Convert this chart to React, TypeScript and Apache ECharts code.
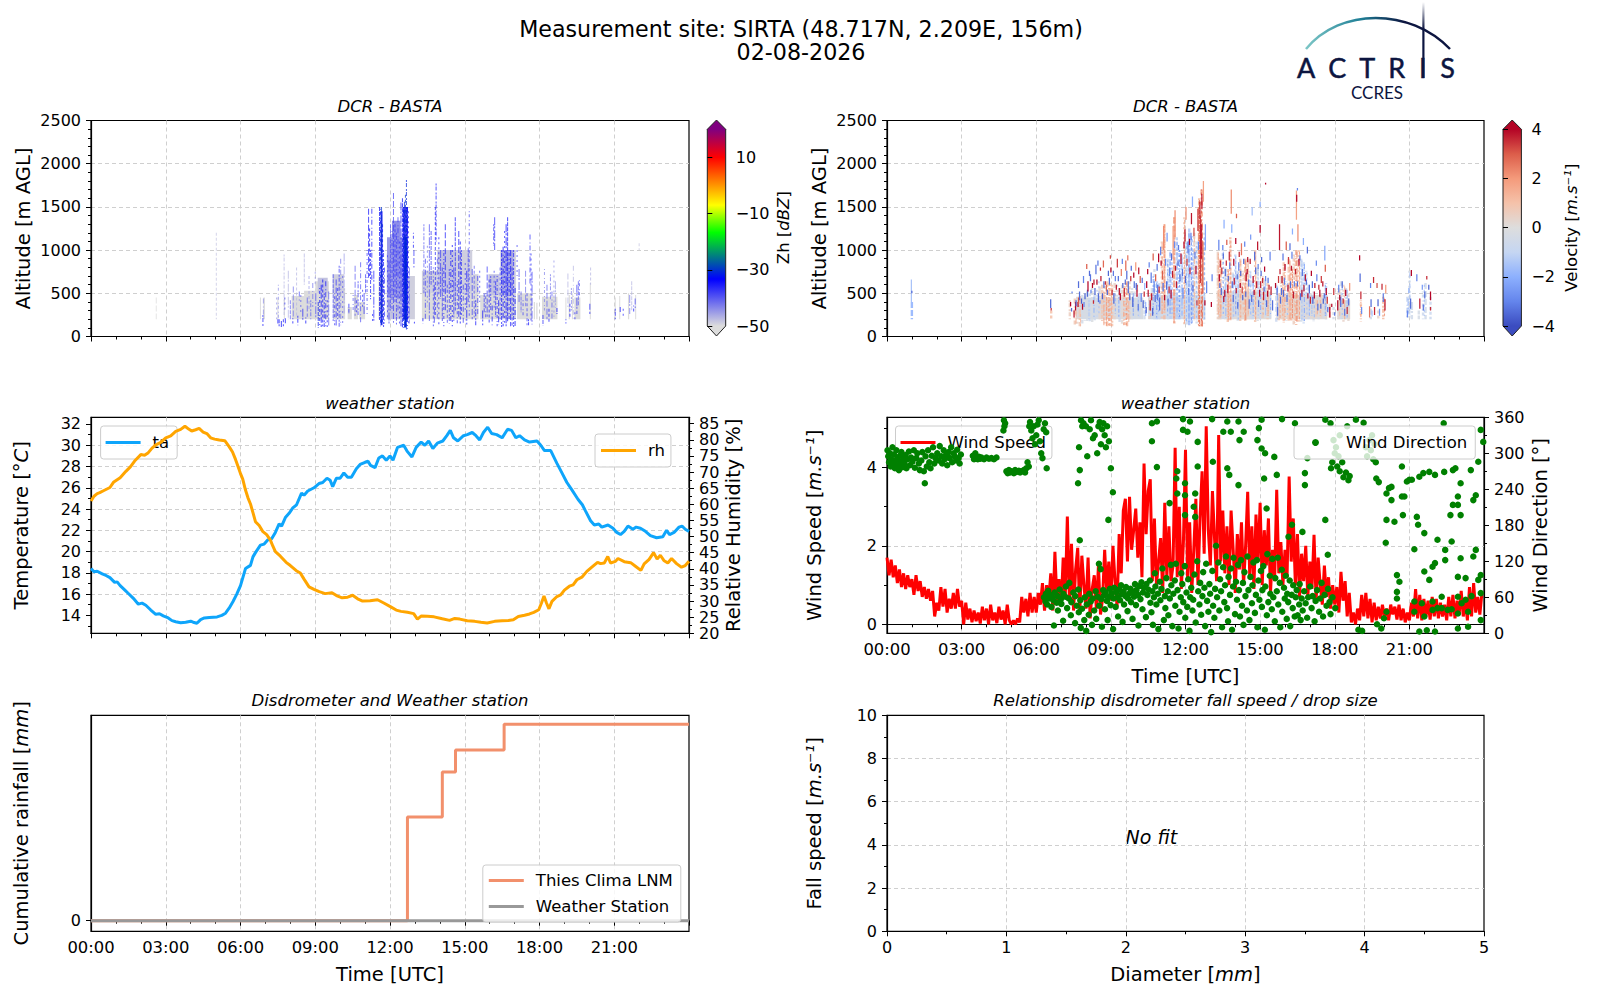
import React, { useEffect, useRef } from "react";
import * as echarts from "echarts";

const FONT = "DejaVu Sans";

const siteTitle = "Measurement site: SIRTA (48.717N, 2.209E, 156m)";
const dateTitle = "02-08-2026";

// Reflectivity: blocks [h0, h1, low, high, dBZ]
const zhBlocks: number[][] = [
  [6.78,6.81,200,450,-50],[6.92,6.98,200,450,-50],[7.48,7.52,200,450,-50],[7.74,7.78,200,450,-50],
  [8.05,8.55,200,470,-50],[8.55,9.0,200,530,-50],[9.0,9.55,200,640,-50],[9.72,10.2,200,560,-50],
  [10.3,10.47,200,340,-50],[10.55,10.72,200,480,-50],[10.76,11.0,200,400,-50],[11.54,11.74,200,700,-50],
  [11.87,12.5,200,960,-48],[12.72,13.0,200,700,-49],[13.28,15.55,200,500,-50],[15.62,16.43,200,480,-50],
  [16.43,17.05,200,1000,-49],[17.1,17.7,200,500,-50],[17.77,17.82,200,400,-50],[17.87,17.92,200,390,-50],
  [18.1,18.72,200,460,-50],[19.04,19.08,200,450,-50],[19.17,19.22,200,480,-50],[19.3,19.34,200,500,-50],
  [19.4,19.64,200,450,-50],[20.02,20.06,200,620,-50],[21.02,21.06,200,450,-50],[21.2,21.24,200,470,-50],
  [21.55,21.6,200,500,-50],[21.84,21.88,200,480,-50],
  [13.28,13.9,500,760,-49],[13.9,14.6,500,1000,-48],[14.6,15.3,500,1000,-49],[15.3,15.55,500,720,-49],
  [16.45,16.95,480,1000,-46],[15.95,16.4,480,720,-48],[9.7,10.15,500,720,-49],[9.1,9.5,500,680,-48],
  [11.88,12.5,450,1150,-45],[12.08,12.42,700,1340,-44],
  [12.52,12.72,200,1500,-38],[12.58,12.67,110,1150,-31],[11.62,11.7,130,1450,-37],
];
// Reflectivity: thin columns [hour, low, high, dBZ]
const zhStreaks: number[][] = [
  [2.62,200,450,-50],[5.03,200,1200,-48],[6.9,120,250,-35],[6.92,200,440,-44],[7.45,200,450,-44],
  [7.5,150,200,-34],[7.55,120,200,-33],[7.52,210,600,-44],[7.64,110,180,-33],[7.72,120,200,-34],[7.75,250,950,-47],
  [7.8,130,210,-34],[7.78,300,450,-38],[7.92,200,760,-47],[8.0,200,420,-40],[8.1,150,210,-34],[8.12,230,580,-42],
  [8.25,230,800,-47],[8.3,130,240,-34],[8.36,400,520,-39],[8.42,250,480,-40],[8.5,170,320,-36],[8.56,600,960,-47],
  [8.62,130,220,-33],[8.68,230,450,-40],[8.75,300,700,-45],[8.82,200,420,-40],[8.9,340,620,-42],[9.0,580,750,-44],
  [9.02,220,500,-39],[9.12,100,400,-32],[9.18,110,560,-33],[9.24,110,600,-34],[9.3,120,660,-33],[9.36,110,500,-33],
  [9.42,120,640,-35],[9.48,110,420,-33],[9.54,120,520,-40],[9.72,180,720,-38],[9.78,130,500,-36],[9.84,120,660,-37],
  [9.9,200,560,-36],[9.96,110,820,-37],[10.02,130,900,-42],[10.1,130,700,-40],[10.16,260,960,-45],[10.35,260,380,-35],
  [10.52,300,480,-40],[10.6,240,820,-40],[10.66,280,420,-36],[10.72,250,640,-38],[10.82,140,860,-39],[10.9,320,540,-36],
  [10.96,260,500,-37],[11.02,510,720,-37],[11.08,240,1000,-38],[11.14,680,1480,-34],[11.18,700,1250,-34],[11.22,430,1000,-35],
  [11.27,640,1480,-35],[11.3,160,260,-36],[11.35,180,760,-36],[11.58,190,1500,-33],[11.62,120,1480,-32],[11.66,140,1500,-30],
  [11.7,160,1300,-32],[11.74,110,1000,-35],[11.78,150,800,-37],[11.9,200,940,-38],[11.96,150,880,-37],[12.02,300,1300,-39],
  [12.08,280,1220,-38],[12.14,160,1660,-38],[12.2,400,1300,-37],[12.26,140,1200,-38],[12.32,300,1380,-38],[12.38,150,1100,-37],
  [12.44,120,1550,-36],[12.5,100,1600,-33],[12.54,100,1500,-32],[12.58,90,1560,-31],[12.62,90,1640,-30],[12.66,80,1810,-31],
  [12.7,90,1500,-33],[12.74,150,1450,-36],[12.78,150,800,-42],[12.98,150,170,-34],[12.94,1020,1200,-35],[12.96,800,1000,-37],
  [13.32,150,210,-33],[13.36,500,1300,-40],[13.42,200,900,-38],[13.5,350,1050,-42],[13.58,180,1300,-39],[13.65,600,1220,-37],
  [13.74,120,800,-37],[13.78,150,600,-38],[13.82,240,1500,-36],[13.85,1100,1770,-35],[13.9,180,900,-40],[13.96,140,1150,-35],
  [14.03,440,1000,-38],[14.1,180,800,-37],[14.16,120,1000,-36],[14.22,300,1300,-35],[14.3,160,600,-38],[14.38,150,780,-38],
  [14.44,150,1000,-35],[14.5,120,1060,-34],[14.56,180,800,-37],[14.62,300,1380,-35],[14.7,130,640,-36],[14.76,230,1220,-35],
  [14.82,150,1100,-33],[14.86,250,1000,-34],[14.94,150,600,-37],[15.02,300,850,-38],[15.08,140,760,-34],[15.14,400,1020,-38],
  [15.18,240,1450,-38],[15.3,200,780,-38],[15.38,220,820,-40],[15.44,130,420,-34],[15.52,250,700,-38],[15.6,400,760,-38],
  [15.72,130,300,-34],[15.78,280,500,-37],[15.84,220,500,-38],[15.9,230,810,-37],[15.98,140,660,-35],[16.04,300,700,-38],
  [16.1,130,360,-34],[16.18,300,760,-38],[16.2,1000,1380,-36],[16.24,230,640,-36],[16.3,120,700,-36],[16.36,140,420,-34],
  [16.42,200,800,-38],[16.48,110,1000,-34],[16.54,120,1040,-33],[16.6,160,1220,-35],[16.66,110,1300,-34],[16.72,170,1380,-33],
  [16.78,200,1000,-35],[16.84,120,1000,-35],[16.9,110,800,-36],[16.96,110,1000,-36],[17.02,110,560,-33],[17.1,700,1060,-38],
  [17.18,400,780,-39],[17.26,280,520,-40],[17.34,220,420,-38],[17.44,350,760,-42],[17.5,130,500,-38],[17.56,130,200,-34],
  [17.62,600,1180,-37],[17.66,150,960,-36],[17.7,140,750,-38],[18.14,130,250,-36],[18.2,300,780,-43],[18.3,200,600,-40],
  [18.38,170,320,-34],[18.44,430,720,-42],[18.5,200,520,-40],[18.58,230,880,-44],[18.64,330,640,-45],[18.7,260,330,-34],
  [19.06,150,200,-35],[19.14,340,730,-47],[19.22,220,380,-34],[19.28,300,560,-43],[19.36,200,820,-47],[19.42,180,280,-36],
  [19.5,260,600,-37],[19.56,350,640,-40],[19.6,450,650,-38],[20.02,260,380,-36],[20.05,600,800,-47],[21.04,200,320,-36],
  [21.24,280,340,-35],[21.36,230,320,-36],[21.62,260,480,-42],[21.7,300,640,-47],[21.78,270,360,-34],[21.84,330,440,-38],
  [22.0,1000,1080,-48],[16.16,1050,1300,-38],
];

// Velocity: pale backdrop blocks [h0, h1, low, high, m/s]
const velBlocks: number[][] = [
  [7.6,10.3,200,450,-0.3],[10.5,12.8,200,480,-0.5],[13.3,15.45,200,520,0.1],[15.65,17.7,200,480,0.2],[18.1,18.62,200,420,0.1],
];
// Velocity: pale columns [hour, low, high, m/s]
const velBase: number[][] = [
  [1.0,200,400,-2],[6.6,200,300,1],[7.35,200,420,0.6],[7.55,140,440,0.8],[7.65,130,460,0.3],[7.75,120,470,0.8],[7.85,150,480,-0.5],
  [7.95,180,500,-0.3],[8.05,180,520,-0.4],[8.15,170,500,-0.7],[8.25,150,560,-0.2],[8.35,170,500,-0.6],[8.45,200,540,-0.8],[8.55,200,580,0.3],
  [8.65,180,600,0.8],[8.75,150,620,0.6],[8.85,120,640,1.1],[8.95,120,620,1.4],[9.05,120,600,1.0],[9.15,200,620,0.4],[9.25,200,600,-0.3],
  [9.35,160,560,-0.7],[9.45,140,600,0.2],[9.55,130,620,1.0],[9.65,120,640,1.3],[9.75,200,640,0.5],[9.85,200,560,-0.2],[9.95,200,520,-0.5],
  [10.05,200,600,-0.2],[10.15,200,500,-0.8],[10.35,200,420,-0.6],[10.55,200,480,0.5],[10.65,200,560,-0.4],[10.75,200,780,-0.6],[10.85,200,640,-1.2],
  [10.95,200,620,-0.8],[11.05,200,1100,0.8],[11.15,200,1300,1.2],[11.3,200,900,-0.9],[11.4,200,1000,-1.2],[11.55,150,1380,1.5],[11.65,200,1150,-1.2],
  [11.75,200,1000,-1.5],[11.85,200,950,-1.0],[11.95,140,1380,0.7],[12.05,140,1100,-0.9],[12.15,130,1250,-1.4],[12.25,140,1160,-1.6],[12.35,180,1200,0.3],
  [12.45,150,1100,-0.6],[12.55,120,1600,1.3],[12.65,100,1700,1.9],[12.75,150,1200,-0.4],[13.3,200,980,0.6],[13.4,200,900,1.2],[13.5,200,1000,-0.8],
  [13.6,200,800,-0.5],[13.7,150,780,1.0],[13.8,180,1150,1.2],[13.9,200,740,-0.3],[14.0,200,950,-1.1],[14.1,160,760,-0.5],[14.2,180,900,0.8],
  [14.3,200,760,0.4],[14.4,170,900,1.3],[14.5,200,900,0.5],[14.6,200,760,-0.7],[14.7,200,640,-1.0],[14.8,150,1000,0.9],[14.9,180,800,-0.3],
  [15.0,200,640,-0.8],[15.1,200,700,0.6],[15.2,200,660,-0.4],[15.3,200,620,0.7],[15.4,200,500,-0.6],[15.65,170,600,-0.8],[15.75,170,500,0.8],
  [15.85,200,700,0.4],[15.95,160,860,1.0],[16.05,180,640,-0.4],[16.15,170,900,0.9],[16.25,180,800,1.2],[16.35,130,950,0.6],[16.45,130,1000,1.3],
  [16.55,170,1000,0.9],[16.65,160,900,-0.5],[16.75,150,860,-1.0],[16.85,200,760,-0.4],[16.95,200,600,-0.8],[17.05,200,500,-0.3],[17.15,170,520,-0.5],
  [17.25,200,420,0.5],[17.35,200,450,-0.6],[17.45,200,500,0.4],[17.55,200,480,-0.3],[17.65,200,620,-1.2],[17.8,200,380,0.7],[17.95,200,340,-0.5],
  [18.15,200,560,0.2],[18.25,180,640,-0.5],[18.35,170,600,0.4],[18.45,200,560,-0.5],[18.55,180,500,0.3],[19.05,170,420,0.9],[19.45,200,320,-0.6],
  [19.75,200,300,0.4],[19.95,200,460,1.2],[20.92,210,460,-1.0],[21.0,200,760,-0.4],[21.1,200,400,-0.6],[21.38,200,300,-0.4],[21.55,200,520,-0.7],
  [21.65,200,620,-0.6],[21.85,200,460,-0.8],
];
// Velocity: narrow strong cells [hour, low, high, m/s]
const velCells: number[][] = [
  [0.98,400,660,-1.5],[1.0,500,530,-3.5],[6.58,330,430,-3.5],[6.6,300,330,3.5],[7.38,350,400,4],[7.42,290,330,-3.4],[7.44,500,520,-3],
  [7.52,220,300,3.8],[7.58,300,400,4],[7.6,350,420,-3.5],[7.68,340,400,4],[7.7,380,450,3],[7.74,420,520,-3.4],[7.82,380,440,-3.6],[7.86,310,380,4],
  [7.92,340,400,-3],[7.96,430,500,-3.6],[8.06,460,540,-3.5],[8.08,520,640,4],[8.14,700,760,-3.4],[8.2,500,540,-3],[8.26,560,620,4],[8.3,380,420,3.6],
  [8.36,480,560,-3.5],[8.4,720,830,-3.3],[8.44,600,660,4],[8.5,400,500,-3.4],[8.56,380,420,-3],[8.6,640,700,3.8],[8.66,430,500,-3.6],[8.72,560,640,-3.4],
  [8.78,600,640,3.5],[8.82,520,600,2.8],[8.9,700,760,-3.5],[8.94,600,680,-3.4],[9.0,740,800,4],[9.05,480,540,3.6],[9.12,380,500,-3.5],[9.18,640,700,-3],
  [9.22,540,600,3.8],[9.3,640,700,-3.4],[9.38,420,500,4],[9.42,700,780,2.5],[9.48,560,620,-3.5],[9.54,460,560,3.6],[9.6,760,880,2.8],[9.64,660,760,-3.4],
  [9.7,500,640,-3.4],[9.76,420,500,-3.5],[9.8,640,700,3.5],[9.88,340,460,-3.5],[9.94,560,640,-3.3],[10.0,760,860,2],[10.05,460,600,4],[10.1,300,380,-3.2],
  [10.18,620,700,3],[10.22,400,500,-3],[10.3,330,420,-3.5],[10.36,540,620,-1.8],[10.42,270,340,-3.6],[10.48,720,780,4],[10.5,460,540,3.8],[10.58,300,420,4],
  [10.62,620,740,-3.2],[10.68,240,330,-3.6],[10.74,500,640,-3],[10.8,640,720,3],[10.88,420,600,-3.2],[10.92,860,960,4],[10.96,300,450,-3.4],[11.02,820,880,4],
  [11.08,660,760,3],[11.12,1000,1280,2.2],[11.2,820,900,-3],[11.24,540,640,-3.4],[11.3,360,440,-3.4],[11.36,700,800,-3],[11.42,440,540,4],[11.5,900,1280,1.8],
  [11.58,1150,1460,2.2],[11.6,760,820,3.8],[11.72,1000,1060,-3.2],[11.78,640,720,-3.4],[11.82,840,960,4],[11.9,440,560,-3],[11.98,1100,1240,3.8],[12.02,1350,1500,2.2],
  [12.1,960,1100,-3.2],[12.16,1060,1130,4],[12.24,1300,1430,3.8],[12.28,1500,1620,-2],[12.34,1160,1260,3.2],[12.42,720,820,4],[12.5,1220,1480,3.4],[12.58,1360,1560,3.6],
  [12.6,620,1400,3.4],[12.63,900,1300,4],[12.66,1480,1650,3.8],[12.7,500,1100,3],[12.72,1560,1800,1.8],[12.8,1000,1300,-2.2],[12.78,360,420,4],[12.85,500,640,-3],
  [13.07,640,720,-3],[13.04,340,400,4],[13.34,1000,1120,-3],[13.36,640,720,4],[13.4,800,880,3.6],[13.44,480,560,-3.4],[13.5,1000,1060,-3],[13.54,400,470,4],
  [13.6,700,780,-3.4],[13.66,1060,1120,3],[13.7,500,600,3.8],[13.76,880,980,3.6],[13.84,1420,1700,2.2],[13.86,1200,1300,-2],[13.92,400,480,-3.4],[13.96,600,680,3.8],
  [14.02,1070,1140,4],[14.1,320,400,-3.4],[14.14,760,860,-3],[14.2,560,620,4],[14.25,940,1080,2.6],[14.3,420,480,-3.5],[14.38,1040,1100,-3],[14.44,640,740,4],
  [14.5,860,920,3.8],[14.56,320,430,-3.4],[14.62,1120,1180,-2.5],[14.68,1400,1500,-1.6],[14.76,480,540,4],[14.82,720,800,-3.4],[14.9,1000,1100,3.8],[14.94,340,420,-3.4],
  [15.0,1200,1290,4],[15.02,560,640,3.6],[15.06,860,920,-3.4],[15.14,420,520,3.8],[15.18,750,810,4],[15.26,340,420,-3.5],[15.32,620,680,-3.4],[15.4,880,980,-3],
  [15.44,480,580,3.8],[15.5,300,420,-3.4],[15.62,560,620,4],[15.7,240,340,-3.4],[15.78,1000,1300,3.8],[15.8,720,780,3.6],[15.86,480,560,-3.4],[15.92,880,960,-3.2],
  [15.98,600,680,-3],[16.05,1000,1100,3],[16.12,520,600,4],[16.2,1000,1080,-3.4],[16.26,760,820,3.8],[16.3,1180,1250,-2],[16.38,580,640,-3],[16.46,1350,1690,1.8],
  [16.52,1100,1300,2.2],[16.6,880,940,-3.2],[16.68,460,540,4],[16.74,1060,1140,-2],[16.82,640,720,3.8],[16.9,960,1040,-3.4],[16.98,500,600,-3.5],
  [17.06,700,760,4],[17.12,380,460,-3.6],[17.2,560,620,3.8],[17.26,820,880,-2.8],[17.32,300,380,-3.4],[17.4,460,540,4],[17.46,620,700,3.4],[17.54,380,440,-3.6],
  [17.6,880,1050,-2.2],[17.62,750,830,3],[17.66,480,560,4],[17.72,280,340,-3.4],[17.8,220,340,4],[17.88,340,380,4],[17.96,480,560,3.5],[18.0,240,280,-3.4],
  [18.12,300,420,4],[18.16,510,600,-3],[18.24,340,460,-3.5],[18.3,560,640,-3.5],[18.34,380,440,3.6],[18.4,240,320,-3.2],[18.44,470,540,4],[18.5,260,340,3.5],
  [18.56,360,440,-3.4],[18.6,530,620,2],[19.0,880,940,4],[19.02,630,730,-3.4],[19.05,430,520,3.6],[19.08,260,340,-2.8],[19.4,220,350,2.6],[19.44,560,620,-3],
  [19.46,340,430,-3.4],[19.56,620,690,3.6],[19.6,250,340,3.6],[19.7,560,620,3.2],[19.74,350,430,-3.5],[19.8,240,320,-2.6],[19.9,540,610,3.6],[19.95,400,500,-3.2],
  [20.02,300,430,3.8],[20.05,500,600,2],[20.92,220,300,-3],[20.98,500,560,-2],[21.05,320,440,-3.4],[21.08,700,770,4],[21.3,640,720,-3],[21.42,320,440,3.8],
  [21.52,540,600,-2.5],[21.56,300,370,-3.3],[21.62,440,520,-3.4],[21.7,660,700,3.6],[21.78,540,600,-3.6],[21.85,420,520,4],[21.85,300,340,3.6],
  [13.55,1250,1350,-2],[14.05,1370,1420,3],[15.0,1500,1560,-2],[16.47,1560,1640,4],[16.5,1690,1720,-3],[15.22,1760,1780,4],
  [7.7,560,640,-3.4],[7.9,620,700,-3],[8.03,780,840,3],[8.18,640,720,-3.3],[8.32,600,660,3.8],[8.48,820,880,-3.2],[8.58,760,800,3.6],[8.7,800,880,2.8],[8.86,480,540,-3.4],[8.98,900,940,3.2],
  [9.1,700,760,-3.2],[9.26,800,900,3.4],[9.34,480,560,3.8],[9.46,840,900,-3],[9.58,600,660,-3.4],[9.68,880,940,2.6],[9.82,760,820,-3.4],[9.92,680,740,4],[10.02,540,620,-3.5],[10.12,720,800,3.8],
  [10.26,620,680,-3.4],[10.34,460,520,3.6],[10.44,560,640,4],[10.54,800,860,-3],[10.64,420,500,3.8],[10.7,880,960,3],[10.78,400,480,-3.5],[10.86,760,840,-3.2],[10.94,500,580,3.6],[11.0,940,1040,-3],
  [11.1,520,620,-3.5],[11.16,420,480,4],[11.26,1100,1200,-2.5],[11.34,500,580,3.6],[11.44,880,960,-3.4],[11.48,680,760,3.8],[11.56,1020,1100,-2.8],[11.64,560,640,3.8],[11.7,820,880,-3.4],[11.88,700,780,-3.3],
  [11.94,1020,1100,4],[12.0,620,700,-3.5],[12.06,820,900,3.4],[12.12,480,560,-3.2],[12.18,720,800,3.8],[12.22,1120,1200,-3],[12.3,520,600,-3.4],[12.38,900,980,-3.2],[12.46,360,420,3.4],[12.52,1000,1100,-3],
  [13.38,560,620,-3.4],[13.46,720,800,3.6],[13.52,900,960,-3.4],[13.58,460,540,4],[13.64,820,880,3.6],[13.72,640,700,-3.4],[13.78,780,860,-3.2],[13.88,560,640,-3.4],[13.94,820,900,4],[14.04,500,560,3.8],
  [14.08,660,720,-3.4],[14.16,920,980,3.6],[14.22,700,760,-3.5],[14.28,500,580,3.2],[14.34,840,900,-3.4],[14.42,460,520,-3.4],[14.48,720,780,4],[14.54,580,660,-3.2],[14.6,840,900,3.8],[14.66,400,480,-3.4],
  [14.72,620,700,4],[14.78,880,980,-3.4],[14.86,560,640,3.8],[14.92,780,840,-3],[14.98,460,540,4],[15.04,700,760,-3.4],[15.1,620,680,3.6],[15.16,520,580,-3.4],[15.22,640,700,-3],[15.3,460,530,4],
  [15.36,540,600,3.6],[15.68,480,560,-3.4],[15.74,620,700,3.4],[15.82,380,460,-3.4],[15.88,620,700,3.8],[15.94,460,540,-3.5],[16.0,760,840,4],[16.08,400,480,-3.4],[16.14,840,920,3.4],[16.22,560,640,-3.4],
  [16.28,900,980,-3],[16.34,440,520,3.8],[16.42,720,780,3.6],[16.5,580,640,-3.4],[16.56,820,900,4],[16.62,420,500,-3.4],[16.7,700,780,-3.2],[16.76,520,600,3.6],[16.86,600,660,-3.4],[16.92,440,500,4],
  [17.02,380,460,3.6],[17.1,560,640,-3.4],[17.18,440,520,4],[17.28,640,720,-3],[17.36,540,600,3.6],[17.44,320,380,-3.4],[17.52,580,640,3.8],[17.58,440,500,-3.4],[17.7,380,460,3.4],[18.2,420,480,4],
];
// Velocity: thin medium columns [hour, low, high, m/s]
const velStreaks: number[][] = [
  [7.6,150,300,1.5],[7.78,120,260,1.2],[8.12,200,420,-1.5],[8.32,220,460,-2],[8.52,260,640,-1.6],[8.72,130,520,1.8],[8.82,120,460,2],[8.92,120,560,2.2],[9.02,120,520,1.6],[9.18,260,500,-1.8],
  [9.32,220,460,-2.2],[9.52,130,540,1.8],[9.62,120,620,2.2],[9.72,160,560,1.5],[9.9,240,500,-2.2],[10.1,240,460,-1.8],[10.4,220,400,-2.2],[10.6,230,500,1.5],[10.7,260,700,-2.2],[10.84,220,620,-2.4],
  [10.92,260,600,-2],[11.06,260,1080,1.8],[11.16,300,1300,2],[11.28,240,880,-2.2],[11.38,240,980,-2.4],[11.46,260,860,-2],[11.54,160,1380,2.2],[11.66,220,1100,-2.2],[11.76,220,1000,-2.6],[11.86,240,900,-2],
  [11.96,150,1350,1.6],[12.04,160,1080,-2],[12.14,140,1200,-2.5],[12.24,150,1150,-2.6],[12.3,200,1000,-2],[12.36,200,1150,1.2],[12.44,180,1050,-1.8],[12.52,130,1500,2.2],[12.56,120,1580,2.6],[12.64,110,1700,3],
  [12.68,120,1300,2.6],[12.76,200,1150,-1.8],[13.32,230,960,1.6],[13.42,240,880,2],[13.52,240,980,-2.2],[13.62,220,780,-1.8],[13.72,180,760,2],[13.82,200,1100,2.2],[13.92,230,720,-1.6],[14.02,240,930,-2.4],
  [14.12,190,740,-1.8],[14.22,220,880,1.8],[14.32,240,740,1.4],[14.42,190,880,2.2],[14.52,240,880,1.6],[14.62,240,740,-1.8],[14.72,240,620,-2.2],[14.82,180,980,2],[14.92,220,780,-1.4],[15.02,240,620,-2.2],
  [15.12,240,680,1.8],[15.22,240,640,-1.6],[15.32,240,600,1.8],[15.42,240,480,-2],[15.7,200,580,-2],[15.8,200,480,1.8],[15.9,240,680,1.4],[16.0,190,840,2],[16.1,220,620,-1.6],[16.2,200,880,2],
  [16.3,210,780,2.2],[16.4,160,930,1.6],[16.48,170,980,2.4],[16.58,200,980,2],[16.68,190,880,-1.6],[16.78,180,840,-2.2],[16.88,230,740,-1.6],[16.98,240,580,-2],[17.08,240,480,-1.6],[17.18,200,500,-1.8],
  [17.3,240,420,1.6],[17.42,240,480,1.4],[17.62,240,600,-2.4],[18.2,240,540,1.2],[18.3,210,620,-1.8],[18.4,200,580,1.6],[18.5,220,540,-2],[19.05,200,400,2],[19.5,230,300,-2],[20.0,240,440,2.2],
  [20.95,240,440,-2.2],[21.02,240,740,-1.6],[21.6,240,600,-1.8],
];

const zhStops: number[][] = [[-50,220,220,220],[-33.3,0,0,255],[-16.7,0,255,0],[-7,255,255,0],[10,255,0,0],[20,128,0,128]];
const velStops: number[][] = [[-4,59,76,192],[-3,100,133,236],[-2,141,176,254],[-1,197,214,242],[0,221,221,221],[1,245,194,170],[2,244,154,123],[3,220,93,74],[4,180,4,38]];

// Surface temperature [hour, degC]
const taPoints: number[][] = [
  [0,18.4],[0.12,18.1],[0.25,18.15],[0.45,17.9],[0.6,17.75],[0.76,17.55],[0.95,17.1],[1.05,17.15],[1.17,16.8],[1.35,16.4],[1.48,16.1],[1.7,15.6],[1.9,15.05],
  [2.05,15.15],[2.2,14.95],[2.4,14.5],[2.6,14.1],[2.75,14.15],[2.9,13.95],[3.1,13.75],[3.25,13.5],[3.4,13.4],[3.6,13.3],[3.8,13.35],[4.0,13.45],[4.1,13.35],[4.25,13.25],[4.4,13.6],[4.55,13.75],
  [4.75,13.8],[5.06,13.85],[5.25,14.0],[5.4,14.2],[5.55,14.7],[5.7,15.3],[5.85,16.0],[6.0,16.8],[6.1,17.6],[6.2,18.4],[6.4,18.7],[6.5,19.5],[6.6,19.9],[6.8,20.6],[6.95,20.7],[7.1,21.1],[7.25,21.2],[7.4,21.8],
  [7.55,22.6],[7.65,22.4],[7.8,23.2],[7.95,23.6],[8.1,24.1],[8.25,24.4],[8.45,25.5],[8.55,25.3],[8.7,25.7],[8.95,26.0],[9.15,26.4],[9.3,26.5],[9.47,26.9],[9.6,26.7],[9.7,26.1],[9.85,26.9],[10.0,26.9],[10.15,27.4],[10.3,27.0],
  [10.45,27.0],[10.65,27.8],[10.8,28.2],[11.0,28.4],[11.12,28.5],[11.22,28.1],[11.4,27.9],[11.55,28.8],[11.7,29.0],[11.85,28.6],[12.0,29.0],[12.12,28.6],[12.3,29.8],[12.42,29.9],[12.55,30.0],[12.7,29.4],[12.88,28.9],[13.05,29.8],[13.25,30.3],
  [13.4,30.0],[13.55,30.4],[13.72,29.7],[13.9,30.2],[14.12,30.4],[14.28,30.9],[14.42,31.4],[14.55,30.7],[14.72,30.4],[14.95,30.9],[15.1,31.0],[15.3,31.2],[15.45,30.9],[15.6,30.5],[15.75,31.2],[15.92,31.7],[16.08,31.1],[16.28,31.0],
  [16.5,30.7],[16.72,31.5],[16.88,31.4],[17.05,30.7],[17.2,30.9],[17.4,30.5],[17.6,30.3],[17.9,30.4],[18.05,30.0],[18.2,29.5],[18.45,29.5],[18.7,28.3],[18.9,27.4],[19.1,26.5],[19.3,25.8],[19.55,24.9],[19.72,24.4],[19.85,23.8],
  [20.05,22.9],[20.2,22.5],[20.38,22.6],[20.5,22.3],[20.75,22.5],[20.95,22.2],[21.1,21.8],[21.25,21.6],[21.4,21.9],[21.55,22.4],[21.75,22.1],[21.88,22.3],[22.05,22.2],[22.25,21.9],[22.45,21.5],[22.7,21.3],[22.95,21.4],[23.1,22.0],[23.22,21.6],[23.4,21.8],
  [23.6,22.3],[23.72,22.4],[23.85,22.1],[24,21.9],
];
// Relative humidity [hour, %]
const rhPoints: number[][] = [
  [0,61.0],[0.12,62.5],[0.25,63.3],[0.35,63.6],[0.5,64.2],[0.76,65.2],[0.9,66.8],[1.17,68.2],[1.4,70.2],[1.58,71.6],[1.75,73.4],[2.0,75.4],[2.15,75.2],[2.3,76.0],[2.45,77.4],[2.6,78.4],[2.8,79.2],[3.0,80.6],[3.2,81.2],[3.4,82.6],[3.6,83.2],
  [3.77,84.2],[3.92,83.3],[4.04,82.7],[4.2,83.1],[4.34,83.5],[4.5,82.4],[4.65,81.9],[4.8,80.6],[4.96,80.2],[5.15,79.9],[5.37,79.7],[5.55,77.8],[5.68,76.2],[5.8,73.9],[5.88,72.2],[6.0,69.5],[6.09,67.8],[6.2,64.4],[6.3,62.0],[6.4,60.1],[6.5,57.4],
  [6.6,54.6],[6.75,53.4],[6.9,51.5],[7.05,50.6],[7.2,48.9],[7.3,47.0],[7.4,45.3],[7.6,43.9],[7.83,42.0],[8.0,41.0],[8.24,39.4],[8.4,38.7],[8.55,36.8],[8.75,34.4],[8.95,33.6],[9.16,32.9],[9.4,32.3],[9.67,32.6],[9.85,31.7],[10.08,31.0],[10.3,31.2],[10.5,31.8],
  [10.7,30.7],[10.9,30.0],[11.2,30.1],[11.5,30.4],[11.75,29.4],[12.03,28.2],[12.25,27.2],[12.44,26.8],[12.7,26.5],[12.95,26.1],[13.1,24.4],[13.26,25.4],[13.5,25.3],[13.77,25.1],[14.1,24.5],[14.39,24.0],[14.6,24.6],[14.8,24.4],[15.1,23.9],[15.4,23.7],
  [15.65,23.4],[15.9,23.2],[16.2,23.7],[16.5,23.9],[16.75,24.0],[16.95,24.2],[17.15,25.2],[17.4,25.6],[17.6,26.0],[17.77,26.5],[17.97,27.3],[18.08,29.4],[18.18,31.6],[18.28,29.4],[18.38,27.6],[18.5,29.9],[18.7,31.4],[18.85,31.9],[19,33.4],[19.2,34.6],
  [19.35,35.0],[19.5,36.6],[19.7,37.4],[19.9,39.2],[20.1,40.5],[20.33,42.0],[20.45,41.6],[20.6,41.8],[20.74,43.8],[20.85,41.8],[21.05,42.3],[21.15,43.2],[21.4,42.2],[21.66,41.9],[21.85,40.8],[22.07,39.5],[22.2,41.5],[22.4,42.9],[22.58,45.0],[22.72,43.0],[22.85,44.2],
  [22.99,42.6],[23.15,41.8],[23.3,43.2],[23.5,41.6],[23.7,40.5],[23.85,41.0],[24,42.3],
];

// Wind speed in m/s, one row per hour, twelve readings per row
const windSpeed: number[] = [
  1.7,1.25,1.65,1.2,1.5,1.05,1.4,0.95,1.3,0.9,1.25,0.95,
  1.15,0.75,1.25,0.85,1.1,0.7,0.95,0.65,0.9,0.6,0.85,0.2,
  0.55,0.35,0.95,0.45,0.9,0.3,0.65,0.4,0.8,0.4,0.9,0.45,
  0.6,0.0,0.55,0.12,0.4,0.05,0.35,0.08,0.3,0.02,0.45,0.1,
  0.4,0.0,0.5,0.1,0.3,0.03,0.45,0.12,0.35,0.0,0.5,0.1,
  0.0,0.1,0.0,0.15,0.05,0.7,0.3,0.65,0.2,0.8,0.3,0.7,
  0.3,0.8,0.5,1.05,0.35,1.0,0.6,1.3,0.35,1.85,0.55,1.15,
  0.45,1.7,0.7,2.75,0.6,2.05,0.35,1.4,1.95,0.3,1.75,1.0,
  0.4,1.7,0.15,0.9,1.25,0.4,1.5,0.25,0.65,1.9,0.85,1.6,
  0.6,2.0,1.1,0.45,2.3,1.3,2.9,3.2,1.6,3.25,1.9,2.4,
  2.95,1.7,2.6,1.2,4.1,2.3,3.4,3.7,1.1,2.7,1.0,1.6,
  2.2,0.8,3.1,1.2,2.5,1.1,1.5,4.5,1.2,3.0,0.9,2.1,
  4.45,1.2,2.6,0.8,1.9,3.2,1.0,2.7,3.9,1.8,5.05,2.4,
  1.5,3.4,2.2,1.1,4.83,1.6,2.9,1.3,2.5,1.0,2.9,1.9,
  0.8,2.3,1.4,2.6,1.0,2.0,3.38,1.2,2.5,0.9,2.8,1.6,
  3.1,1.0,2.4,1.5,2.7,0.8,1.9,1.1,3.43,1.3,2.1,1.0,
  1.9,1.2,3.77,1.6,2.7,1.0,2.3,0.7,1.8,1.1,2.0,0.7,
  1.6,0.9,2.28,0.6,1.7,1.0,0.5,1.5,0.7,1.2,0.4,1.0,
  0.5,0.95,0.3,1.34,0.6,1.1,0.2,0.8,0.05,0.3,0.0,0.4,
  0.1,0.75,0.2,0.8,0.15,0.65,0.05,0.55,0.1,0.45,0.15,0.5,
  0.2,0.4,0.1,0.5,0.25,0.45,0.12,0.5,0.1,0.4,0.05,0.3,
  0.1,0.55,0.2,0.9,0.15,0.75,0.1,0.65,0.2,0.6,0.12,0.7,
  0.2,0.65,0.15,0.55,0.2,0.5,0.1,0.7,0.2,0.75,0.15,0.6,
  0.25,0.85,0.2,0.6,0.1,0.95,0.2,1.05,0.3,0.7,0.25,0.8,
];

// Wind direction [hour, degrees]
const windDirNight: number[][] = [
  [0.02,305],[0.05,295],[0.08,285],[0.12,300],[0.15,278],[0.18,290],[0.22,310],[0.25,283],[0.28,298],[0.32,275],[0.35,288],[0.38,305],[0.42,292],[0.45,280],[0.48,272],[0.52,296],[0.55,285],[0.58,302],[0.62,277],[0.65,290],[0.7,283],[0.75,297],[0.78,275],[0.82,290],[0.88,303],[0.92,280],[0.97,293],
  [1.02,286],[1.08,305],[1.12,276],[1.18,292],[1.22,300],[1.28,283],[1.32,272],[1.38,288],[1.42,302],[1.48,270],[1.52,250],[1.55,295],[1.6,278],[1.65,305],[1.7,285],[1.75,275],[1.8,296],[1.85,310],[1.9,283],[1.95,292],
  [2.02,300],[2.08,288],[2.12,312],[2.18,295],[2.22,283],[2.28,305],[2.32,290],[2.38,298],[2.42,280],[2.48,302],[2.52,292],[2.58,310],[2.62,285],[2.68,300],[2.72,295],[2.78,288],[2.82,306],[2.88,292],[2.92,283],[2.97,298],
  [3.45,296],[3.5,290],[3.55,300],[3.6,292],[3.65,290],[3.7,294],[3.75,291],[3.8,293],[3.9,290],[4,293],[4.1,291],[4.2,292],[4.3,290],[4.4,293],
  [4.8,270],[4.85,267],[4.9,272],[4.95,268],[5,270],[5.1,267],[5.15,272],[5.2,269],[5.3,271],[5.35,268],[5.4,270],[5.5,272],[5.55,268],[5.6,275],[5.65,285],[5.7,278],
  [4.7,355],[4.72,345],[4.68,338],[4.75,350],[5.72,345],[5.75,352],[5.8,338],[5.85,325],[5.9,345],[5.95,315],[6,330],[6.05,348],[6.1,355],[6.15,320],[6.2,300],[6.25,292],[6.3,340],[6.35,350],[6.4,335],[6.42,275],
];
const windDirUpper: number[][] = [
  [7.68,250],[7.72,310],[7.75,272],[7.8,355],[7.85,345],[7.9,350],[8.0,345],[8.05,295],[8.15,340],[8.2,355],[8.28,325],[8.35,330],[8.45,300],[8.5,345],[8.55,352],[8.6,315],[8.65,340],[8.7,350],[8.75,330],[8.8,310],[8.85,345],[8.92,320],[9,275],[9.08,235],
  [8.9,189],[7.75,155],[10.65,320],[10.65,350],[10.85,353],[10.85,277],[11.67,270],[11.63,258],[11.67,233],[11.36,217],[11.9,339],[11.9,357],[12.08,336],[12.18,353],[11.98,250],[11.98,230],[11.98,197],[12.39,233],[12.33,211],[12.39,194],[12.49,278],[12.49,319],
  [13.07,357],[13.1,286],[13.52,336],[13.68,353],[13.82,336],[13.68,275],[13.76,264],[14.13,353],[14.13,247],[14.34,336],[14.17,322],[14.95,342],[15.06,356],[14.89,322],[15.06,308],[15.2,300],[15.16,258],[15.57,294],[15.67,264],[15.88,357],[15.26,208],[16.28,181],[16.14,161],[16.7,169],
  [16.9,292],[16.8,267],[16.8,247],[17.62,356],[17.83,350],[18.85,356],[19.16,351],[17.62,189],[17.72,131],[16.4,350],[17.85,275],[17.9,285],[18,300],[18.05,310],[18.1,278],[18.15,295],[18.2,270],[18.3,285],[18.35,260],[18.45,268],[18.55,255],[18.6,262],[17.95,322],[18.2,330],[18.5,345],
  [19.25,310],[19.3,295],[19.4,322],[19.45,305],[19.5,330],[19.55,290],[19.6,315],[19.65,285],[19.67,258],[19.77,252],[20.08,233],[20.18,242],[20.28,244],[20.28,222],[20.7,278],[20.9,253],[21.0,256],[21.1,256],[20.8,228],[20.7,228],[20.08,189],[20.4,186],[20.74,197],[21.3,194],[21.35,181],[21.6,167],[21.4,261],[21.56,267],[21.8,269],
  [22.03,264],[22.4,269],[22.75,272],[22.85,275],[23.47,272],[23.77,286],[23.87,339],[23.97,319],[22.38,350],[23.06,250],[22.95,228],[22.75,214],[22.95,214],[22.65,197],[23.06,197],[23.57,222],[23.67,230],[22.7,153],[22.13,156],[20.05,151],[21.2,140],[22.44,139],[23.67,139],[23.06,125],[23.57,128],[22.03,117],[21.93,111],[22.44,122],[21.6,103],[20.5,97],[20.6,86],[21.8,89],[22.95,94],[23.26,92],[23.77,89],[23.87,97],
  [20.5,69],[20.5,58],[21.2,53],[21.5,50],[21.93,53],[22.3,61],[22.95,61],[23.26,56],[23.87,67],[20.08,36],[19.98,25],[21.2,36],[21.6,28],[21.93,39],[22.13,42],[22.54,39],[22.95,33],[23.36,36],[23.87,22],[22.95,8],[23.36,11],[21.4,3],[22.03,3],[19.87,8],[18.95,6],[19.1,4],[19.7,15],[21.7,5],[22.3,42],[22.7,40],[23.1,50],[23.5,62],
];
const windDirLower: number[][] = [
  [6.31,60],[6.37,53],[6.39,66],[6.44,48],[6.48,71],[6.52,58],[6.55,64],[6.61,44],[6.63,61],[6.69,55],[6.71,13],[6.74,68],[6.82,51],[6.86,62],[6.87,38],[6.94,73],[6.99,57],[7.01,49],[7.08,21],[7.09,66],[7.17,61],[7.19,78],[7.24,42],[7.31,58],[7.33,84],[7.39,30],[7.41,52],[7.49,68],[7.56,17],[7.57,62],[7.63,46],[7.69,73],[7.71,35],
  [7.77,55],[7.79,9],[7.84,41],[7.93,22],[7.95,60],[8.01,4],[8.03,48],[8.11,31],[8.13,66],[8.19,53],[8.24,14],[8.27,58],[8.33,38],[8.39,70],[8.41,24],[8.47,61],[8.52,116],[8.53,46],[8.59,107],[8.61,57],[8.64,11],[8.69,72],[8.72,63],[8.76,40],[8.79,68],[8.84,54],[8.87,22],[8.93,61],[8.96,74],[8.99,47],[9.03,66],[9.09,7],[9.11,58],
  [9.13,76],[9.19,44],[9.21,69],[9.27,60],[9.29,28],[9.33,73],[9.37,55],[9.41,80],[9.43,65],[9.47,19],[9.51,70],[9.53,48],[9.59,62],[9.61,77],[9.67,37],[9.69,58],[9.73,66],[9.79,74],[9.81,52],[9.87,24],[9.89,69],[9.93,61],[9.97,82],[10.01,47],[10.03,72],[10.09,64],[10.11,13],[10.17,79],[10.19,57],[10.23,85],[10.27,40],[10.29,68],[10.33,76],
  [10.41,27],[10.43,82],[10.47,64],[10.51,73],[10.57,88],[10.59,51],[10.63,35],[10.67,70],[10.69,14],[10.73,60],[10.77,100],[10.79,78],[10.83,48],[10.89,66],[10.91,7],[10.97,86],[10.99,55],[11.03,74],[11.07,108],[11.13,22],[11.17,62],[11.19,42],[11.23,92],[11.29,70],[11.31,30],[11.37,58],[11.41,114],[11.43,80],[11.47,12],[11.51,66],[11.57,88],[11.59,46],
  [11.61,116],[11.68,72],[11.72,8],[11.76,36],[11.81,60],[11.83,100],[11.87,82],[11.91,52],[11.97,112],[11.99,26],[12.04,68],[12.07,44],[12.11,90],[12.16,4],[12.19,60],[12.23,76],[12.28,38],[12.31,56],[12.36,98],[12.41,18],[12.47,120],[12.51,70],[12.56,48],[12.59,84],[12.63,31],[12.68,62],[12.71,102],[12.76,76],[12.79,12],[12.83,116],[12.87,54],[12.92,36],[12.96,82],
  [12.99,66],[13.03,2],[13.08,104],[13.11,46],[13.16,26],[13.19,74],[13.23,146],[13.27,60],[13.32,118],[13.36,38],[13.39,90],[13.43,70],[13.47,10],[13.51,110],[13.56,52],[13.59,80],[13.63,128],[13.67,42],[13.71,20],[13.73,94],[13.79,64],[13.83,108],[13.87,6],[13.91,78],[13.93,126],[13.99,32],[14.03,86],[14.07,56],[14.11,114],[14.15,72],[14.19,28],
  [14.23,122],[14.27,46],[14.31,84],[14.33,14],[14.37,102],[14.41,62],[14.47,38],[14.49,128],[14.53,72],[14.57,22],[14.61,94],[14.67,50],[14.69,80],[14.73,118],[14.79,34],[14.83,64],[14.87,122],[14.89,10],[14.93,88],[14.97,56],[15.03,104],[15.07,44],[15.09,72],[15.13,112],[15.19,6],[15.21,78],[15.27,30],[15.29,132],[15.33,52],[15.39,96],[15.41,66],
  [15.47,40],[15.49,124],[15.53,60],[15.59,20],[15.61,92],[15.67,70],[15.71,126],[15.73,48],[15.79,84],[15.81,10],[15.87,106],[15.89,36],[15.96,76],[15.99,58],[16.03,96],[16.07,24],[16.09,66],[16.13,52],[16.19,88],[16.21,12],[16.27,64],[16.31,42],[16.33,80],[16.39,28],[16.43,60],[16.47,72],[16.51,30],[16.57,48],[16.59,82],[16.63,22],[16.67,58],[16.71,38],
  [16.77,70],[16.83,50],[16.89,26],[16.93,60],[17.01,78],[17.07,42],[17.11,62],[17.19,20],[17.23,54],[17.29,72],[17.37,36],[17.41,58],[17.47,84],[17.53,28],[17.59,64],[17.67,46],[17.73,74],[17.79,52],[17.83,32],[17.91,60],[18.02,42],
];

const rainHours: number[] = [0, 12.7, 14.1, 14.63, 16.58, 24];
const rainThies: number[] = [0, 0.528, 0.757, 0.869, 1, 1];
const rainStation: number[] = [0, 0, 0, 0, 0, 0];

const tempTicks = [14, 16, 18, 20, 22, 24, 26, 28, 30, 32];
const tempMinor = [13, 15, 17, 19, 21, 23, 25, 27, 29, 31];
const rhTicks = [20, 25, 30, 35, 40, 45, 50, 55, 60, 65, 70, 75, 80, 85];
const rhMinor = [22.5, 27.5, 32.5, 37.5, 42.5, 47.5, 52.5, 57.5, 62.5, 67.5, 72.5, 77.5, 82.5];
const wsTicks = [0, 2, 4];
const wsMinor = [1, 3, 5];
const zhTicks = [-50, -30, -10, 10];
const velTicks = [-4, -2, 0, 2, 4];

const PX = {
  cols: [[91, 689], [887, 1484]],
  rows: [[120.5, 336.5], [417.3, 633.3], [715.3, 931.3]],
};

const dashPatterns: number[][] = [[6, 2], [3, 2], [2, 1, 4, 2], [5, 3, 1, 2], [2, 3], [8, 1, 2, 2], [4, 1], [1, 2, 3, 3]];

function colorAt(stops: number[][], v: number): string {
  if (v <= stops[0][0]) return `rgb(${stops[0].slice(1).join(",")})`;
  for (let i = 1; i < stops.length; i++) {
    if (v <= stops[i][0]) {
      const a = stops[i - 1], b = stops[i];
      const t = (v - a[0]) / (b[0] - a[0]);
      return `rgb(${Math.round(a[1] + (b[1] - a[1]) * t)},${Math.round(a[2] + (b[2] - a[2]) * t)},${Math.round(a[3] + (b[3] - a[3]) * t)})`;
    }
  }
  const l = stops[stops.length - 1];
  return `rgb(${l[1]},${l[2]},${l[3]})`;
}

function cellSeries(xi: number, yi: number, data: number[][], stops: number[][], z: number) {
  return {
    type: "custom", xAxisIndex: xi, yAxisIndex: yi, silent: true, z, clip: true,
    encode: { x: [0, 1], y: [2, 3] },
    data,
    renderItem: (_: any, api: any) => {
      const a = api.coord([api.value(0), api.value(3)]);
      const b = api.coord([api.value(1), api.value(2)]);
      return {
        type: "rect",
        shape: { x: a[0], y: a[1], width: Math.max(b[0] - a[0], 1), height: b[1] - a[1] },
        style: { fill: colorAt(stops, api.value(4)) },
      };
    },
  };
}

function streakSeries(xi: number, yi: number, data: number[][], stops: number[][], width: number, opacity: number, z: number) {
  return {
    type: "custom", xAxisIndex: xi, yAxisIndex: yi, silent: true, z, clip: true,
    encode: { x: 0, y: [1, 2] },
    data,
    renderItem: (p: any, api: any) => {
      const a = api.coord([api.value(0), api.value(2)]);
      const b = api.coord([api.value(0), api.value(1)]);
      return {
        type: "line",
        shape: { x1: a[0], y1: a[1], x2: b[0], y2: b[1] },
        style: {
          stroke: colorAt(stops, api.value(3)),
          lineWidth: width,
          opacity,
          lineDash: dashPatterns[p.dataIndex % dashPatterns.length],
        },
      };
    },
  };
}

const widen = (rows: number[][], w: number) => rows.map(([h, lo, hi, v]) => [h - w / 2, h + w / 2, lo, hi, v]);

const tickFont = { fontFamily: FONT, fontSize: 16, color: "#000" };
const nameFont = {
  fontFamily: FONT,
  fontSize: 19.5,
  color: "#000",
  rich: { i: { fontFamily: FONT, fontSize: 19.5, fontStyle: "italic", color: "#000" } },
};
const dashed = { show: true, showMinLine: false, showMaxLine: false, lineStyle: { color: "#cfcfcf", type: [4, 3], width: 1 } };
const blackLine = { show: true, lineStyle: { color: "#000", width: 1.2 } };
const tickStyle = { show: true, length: 5, lineStyle: { color: "#000", width: 1 } };

function hourLabel(v: number) {
  if (v >= 24) return "";
  return `${String(v).padStart(2, "0")}:00`;
}

function timeAxis(gridIndex: number, labelled: boolean) {
  return {
    type: "value", gridIndex, min: 0, max: 24, interval: 3,
    axisLine: blackLine, axisTick: tickStyle,
    minorTick: { show: true, splitNumber: 3, length: 3, lineStyle: { color: "#000", width: 1 } },
    splitLine: dashed,
    axisLabel: labelled ? { ...tickFont, fontSize: 16.4, margin: 8, formatter: hourLabel, hideOverlap: false } : { show: false },
    name: labelled ? "Time [UTC]" : "",
    nameLocation: "middle", nameGap: 33, nameTextStyle: nameFont,
  };
}

function yCustom(gridIndex: number, min: number, max: number, ticks: number[], name: string, position: string, nameGap: number, grid: boolean) {
  return {
    type: "value", gridIndex, min, max, position,
    axisLine: blackLine,
    axisTick: { ...tickStyle, customValues: ticks },
    axisLabel: { ...tickFont, margin: 10, customValues: ticks, showMinLabel: true, showMaxLabel: true, hideOverlap: false, formatter: (v: number) => String(v) },
    splitLine: grid ? dashed : { show: false },
    name, nameLocation: "middle", nameRotate: 90, nameGap, nameTextStyle: nameFont,
  };
}

function yMinor(gridIndex: number, min: number, max: number, ticks: number[], position: string) {
  return {
    type: "value", gridIndex, min, max, position,
    axisLine: { show: false },
    axisTick: { show: true, length: 3, customValues: ticks, lineStyle: { color: "#000", width: 1 } },
    axisLabel: { show: false },
    splitLine: { show: false },
  };
}

function yRegular(gridIndex: number, min: number, max: number, interval: number, split: number, name: string, nameGap: number) {
  return {
    type: "value", gridIndex, min, max, interval,
    axisLine: blackLine, axisTick: tickStyle,
    minorTick: { show: true, splitNumber: split, length: 3, lineStyle: { color: "#000", width: 1 } },
    axisLabel: { ...tickFont, margin: 10, formatter: (v: number) => String(v) },
    splitLine: dashed,
    name, nameLocation: "middle", nameRotate: 90, nameGap, nameTextStyle: nameFont,
  };
}

function legendBox(left: number, top: number, name: string, pad: number[], z: number, icon = "rect") {
  return {
    left, top, z,
    data: [name],
    orient: "vertical",
    icon,
    itemWidth: icon === "rect" ? 35 : 7,
    itemHeight: icon === "rect" ? 3 : 7,
    selectedMode: false,
    padding: pad,
    backgroundColor: "rgba(255,255,255,0.8)",
    borderColor: "#ccc",
    borderWidth: 1,
    borderRadius: 3,
    textStyle: { fontFamily: FONT, fontSize: 16.5, color: "#000", padding: [0, 0, 0, icon === "rect" ? 7 : 22] },
  };
}

function subtitle(text: string, x: number, y: number) {
  return {
    text, left: x, top: y, textAlign: "center", padding: 0,
    textStyle: { fontFamily: FONT, fontSize: 16.5, fontStyle: "italic", fontWeight: "normal", color: "#000" },
  };
}

function colorbarShape(x0: number, stops: number[][], vmin: number, vmax: number) {
  const top = 120, bottom = 336, rt = 129.3, rb = 326;
  const off = (v: number) => (rb - ((v - vmin) / (vmax - vmin)) * (rb - rt) - top) / (bottom - top);
  const colorStops = stops.map((s) => ({ offset: off(s[0]), color: `rgb(${s[1]},${s[2]},${s[3]})` })).reverse();
  return {
    type: "polygon",
    shape: { points: [[x0, rt], [x0 + 9.2, top], [x0 + 18.4, rt], [x0 + 18.4, rb], [x0 + 9.2, bottom], [x0, rb]] },
    style: { fill: new echarts.graphic.LinearGradient(0, 0, 0, 1, colorStops), stroke: "#222", lineWidth: 1 },
    silent: true,
  };
}

function logo() {
  return [
    {
      type: "bezierCurve",
      shape: { x1: 1306, y1: 49, cpx1: 1340, cpy1: 7.5, cpx2: 1410, cpy2: 7.5, x2: 1450, y2: 49 },
      style: {
        fill: "none", lineWidth: 2.5,
        stroke: new echarts.graphic.LinearGradient(0, 0, 1, 0, [
          { offset: 0, color: "#7cc6c6" },
          { offset: 0.38, color: "#1f7f96" },
          { offset: 0.68, color: "#0c1540" },
          { offset: 1, color: "#0c1540" },
        ]),
      },
      silent: true,
    },
    {
      type: "rect",
      shape: { x: 1422.3, y: 2, width: 2.2, height: 76 },
      style: {
        fill: new echarts.graphic.LinearGradient(0, 0, 0, 1, [
          { offset: 0, color: "rgba(12,21,64,0)" },
          { offset: 0.35, color: "#0c1540" },
          { offset: 1, color: "#0c1540" },
        ]),
      },
      silent: true,
    },
    {
      type: "text", x: 1376, y: 67,
      style: { text: "A  C  T  R  I  S", fontFamily: "Lato", fontSize: 27, fill: "#0c1540", stroke: "#0c1540", lineWidth: 0.5, align: "center", verticalAlign: "middle" },
      silent: true,
    },
    {
      type: "text", x: 1377, y: 92,
      style: { text: "CCRES", fontFamily: "Lato", fontSize: 17, fill: "#0c1540", align: "center", verticalAlign: "middle" },
      silent: true,
    },
  ];
}

function buildOption(): any {
  const grids: any[] = [
    [0, 0], [1, 0], [0, 1], [1, 1], [0, 2], [1, 2],
  ].map(([c, r]) => ({
    left: PX.cols[c][0], width: PX.cols[c][1] - PX.cols[c][0],
    top: PX.rows[r][0], height: PX.rows[r][1] - PX.rows[r][0],
    show: true, borderColor: "#000", borderWidth: 1.2, backgroundColor: "transparent",
  }));
  grids.push({ left: 707.3, width: 18.4, top: 129.3, height: 196.7, show: false });
  grids.push({ left: 1503, width: 18.4, top: 129.3, height: 196.7, show: false });

  const hiddenX = (gridIndex: number) => ({ type: "value", gridIndex, min: 0, max: 1, show: false });
  const xAxis = [
    timeAxis(0, false), timeAxis(1, false), timeAxis(2, false), timeAxis(3, true), timeAxis(4, true),
    {
      type: "value", gridIndex: 5, min: 0, max: 5, interval: 1,
      axisLine: blackLine, axisTick: tickStyle,
      minorTick: { show: true, splitNumber: 2, length: 3, lineStyle: { color: "#000", width: 1 } },
      splitLine: dashed, axisLabel: { ...tickFont, margin: 8 },
      name: "Diameter [{i|mm}]", nameLocation: "middle", nameGap: 33, nameTextStyle: nameFont,
    },
    hiddenX(6), hiddenX(7),
  ];

  const cbar = (gridIndex: number, min: number, max: number, ticks: number[], name: string, gap: number) => ({
    type: "value", gridIndex, min, max, position: "right",
    axisLine: { show: false },
    axisTick: { show: true, length: 5, customValues: ticks, lineStyle: { color: "#000", width: 1 } },
    axisLabel: { ...tickFont, margin: 10, customValues: ticks, showMinLabel: true, showMaxLabel: true, formatter: (v: number) => String(v).replace("-", "\u2212") },
    splitLine: { show: false },
    name, nameLocation: "middle", nameRotate: 90, nameGap: gap,
    nameTextStyle: { ...nameFont, fontSize: 16.5, rich: { i: { fontFamily: FONT, fontSize: 16.5, fontStyle: "italic", color: "#000" } } },
  });

  const yAxis = [
    yRegular(0, 0, 2500, 500, 5, "Altitude [m AGL]", 58),
    yRegular(1, 0, 2500, 500, 5, "Altitude [m AGL]", 58),
    yCustom(2, 12.31, 32.63, tempTicks, "Temperature [{i|°C}]", "left", 60, true),
    yCustom(2, 20, 86.96, rhTicks, "Relative Humidity [%]", "right", 34, false),
    yMinor(2, 12.31, 32.63, tempMinor, "left"),
    yMinor(2, 20, 86.96, rhMinor, "right"),
    yCustom(3, -0.23, 5.28, wsTicks, "Wind Speed [{i|m.s⁻¹}]", "left", 63, true),
    yCustom(3, 0, 360, [0, 60, 120, 180, 240, 300, 360], "Wind Direction [°]", "right", 46, false),
    yMinor(3, -0.23, 5.28, wsMinor, "left"),
    yMinor(3, 0, 360, [30, 90, 150, 210, 270, 330], "right"),
    yCustom(4, -0.054, 1.046, [0], "Cumulative rainfall [{i|mm}]", "left", 60, true),
    yRegular(5, 0, 10, 2, 2, "Fall speed [{i|m.s⁻¹}]", 63),
    cbar(6, -50, 20, zhTicks, "Zh [{i|dBZ}]", 49),
    cbar(7, -4, 4, velTicks, "Velocity [{i|m.s⁻¹}]", 42),
  ];

  const windPoints = windSpeed.map((v, i) => [i / 12, v]);
  const series: any[] = [
    cellSeries(0, 0, zhBlocks, zhStops, 2),
    streakSeries(0, 0, zhStreaks, zhStops, 1.05, 0.68, 2),
    cellSeries(1, 1, velBlocks, velStops, 2),
    streakSeries(1, 1, velBase, velStops, 2.4, 0.85, 2),
    streakSeries(1, 1, velStreaks, velStops, 1.1, 0.85, 2),
    cellSeries(1, 1, widen(velCells, 0.05), velStops, 2),
    {
      name: "ta", type: "line", xAxisIndex: 2, yAxisIndex: 2, data: taPoints, showSymbol: false, z: 2,
      lineStyle: { color: "#0ea5fb", width: 3 }, itemStyle: { color: "#0ea5fb" },
    },
    {
      name: "rh", type: "line", xAxisIndex: 2, yAxisIndex: 3, data: rhPoints, showSymbol: false, z: 5,
      lineStyle: { color: "#ffa500", width: 3 }, itemStyle: { color: "#ffa500" },
    },
    {
      name: "Wind Speed", type: "line", xAxisIndex: 3, yAxisIndex: 6, data: windPoints, showSymbol: false, z: 2,
      lineStyle: { color: "#ff0000", width: 3 }, itemStyle: { color: "#ff0000" },
    },
    {
      name: "Wind Direction", type: "scatter", xAxisIndex: 3, yAxisIndex: 7,
      data: [...windDirNight, ...windDirUpper, ...windDirLower], symbolSize: 6.5, z: 5, itemStyle: { color: "#008000", opacity: 1 },
    },
    {
      name: "Thies Clima LNM", type: "line", step: "end", xAxisIndex: 4, yAxisIndex: 10,
      data: rainHours.map((h, i) => [h, rainThies[i]]), showSymbol: false, z: 2,
      lineStyle: { color: "#f2906c", width: 3 }, itemStyle: { color: "#f2906c" },
    },
    {
      name: "Weather Station", type: "line", xAxisIndex: 4, yAxisIndex: 10,
      data: rainHours.map((h, i) => [h, rainStation[i]]), showSymbol: false, z: 3,
      lineStyle: { color: "#999999", width: 3 }, itemStyle: { color: "#999999" },
    },
    { type: "line", xAxisIndex: 5, yAxisIndex: 11, data: [] },
    { type: "line", xAxisIndex: 6, yAxisIndex: 12, data: [] },
    { type: "line", xAxisIndex: 7, yAxisIndex: 13, data: [] },
  ];

  return {
    animation: false,
    backgroundColor: "#fff",
    title: [
      {
        text: `${siteTitle}\n${dateTitle}`,
        left: 801, top: 17, textAlign: "center", padding: 0,
        textStyle: { fontFamily: FONT, fontSize: 22.2, fontWeight: "normal", color: "#000", lineHeight: 23.5 },
      },
      subtitle("DCR - BASTA", 390, 98),
      subtitle("DCR - BASTA", 1185.5, 98),
      subtitle("weather station", 390, 395),
      subtitle("weather station", 1185.5, 395),
      subtitle("Disdrometer and Weather station", 390, 692),
      subtitle("Relationship disdrometer fall speed / drop size", 1185.5, 692),
    ],
    grid: grids,
    xAxis,
    yAxis,
    series,
    legend: [
      legendBox(100.6, 426, "ta", [8, 8, 8, 5], 3),
      legendBox(595, 434, "rh", [8, 6, 8, 6], 6),
      legendBox(895.5, 426, "Wind Speed", [8, 6, 8, 5], 3),
      legendBox(1294, 426, "Wind Direction", [8, 8, 8, 18], 6, "circle"),
      {
        ...legendBox(482.8, 865, "Thies Clima LNM", [7, 8, 7, 6], 6),
        data: ["Thies Clima LNM", "Weather Station"],
        itemGap: 9,
      },
    ],
    graphic: [
      colorbarShape(707.3, zhStops, -50, 20),
      colorbarShape(1503, velStops, -4, 4),
      {
        type: "text", x: 1125.5, y: 837,
        style: { text: "No fit", fontFamily: FONT, fontSize: 19, fontStyle: "italic", fill: "#000", verticalAlign: "middle" },
        silent: true,
      },
      ...logo(),
    ],
  };
}

export default function App() {
  const ref = useRef<HTMLDivElement>(null);
  useEffect(() => {
    document.body.style.margin = "0";
    const chart = echarts.init(ref.current!, undefined, { renderer: "svg", width: 1600, height: 1000 });
    chart.setOption(buildOption());
    return () => chart.dispose();
  }, []);
  return <div ref={ref} style={{ width: 1600, height: 1000 }} />;
}
